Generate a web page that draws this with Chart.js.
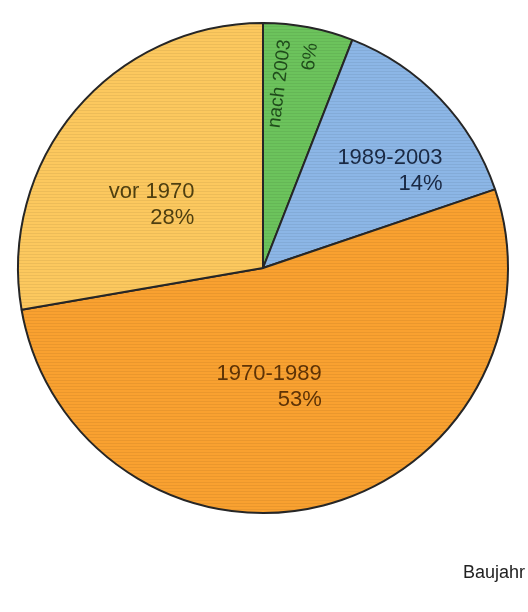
<!DOCTYPE html>
<html>
<head>
<meta charset="utf-8">
<script src="https://cdn.jsdelivr.net/npm/chart.js@4/dist/chart.umd.min.js"></script>
<style>
  html, body { margin: 0; padding: 0; background: #ffffff; }
  #wrap { width: 528px; height: 612px; }
</style>
</head>
<body>
<div id="wrap"><canvas id="pie" width="528" height="612"></canvas></div>
<script>
// Building stock by year of construction (share in %)
const categories = ['nach 2003', '1989-2003', '1970-1989', 'vor 1970'];
const shares = [6, 14, 53, 28];
const valueLabels = ['6%', '14%', '53%', '28%'];
const axisTitle = 'Baujahr';

// Slice colours and label ink
const sliceColors = ['#6cc35c', '#8cb6e6', '#f9a130', '#fcc85e'];
const inkColors = ['#1f4c1b', '#1a2944', '#5e3306', '#4f3f10'];

// Label anchors as fractions of the radius from the centre, rotation (deg) and font size
const labelPlacement = [
  { fx: 0.145, fy: -0.925, rot: -83, size: 19, gap: 13.5 },
  { fx: 0.733, fy: -0.396, rot: 0, size: 22, gap: 13 },
  { fx: 0.24, fy: 0.486, rot: 0, size: 22, gap: 13 },
  { fx: -0.28, fy: -0.257, rot: 0, size: 22, gap: 13 }
];

// Faint horizontal ruling inside each slice
function ruled(color) {
  const c = document.createElement('canvas');
  c.width = 4; c.height = 3;
  const g = c.getContext('2d');
  g.fillStyle = color;
  g.fillRect(0, 0, 4, 3);
  g.fillStyle = 'rgba(0,0,0,0.06)';
  g.fillRect(0, 2, 4, 1);
  return g.createPattern(c, 'repeat');
}

const sliceLabels = {
  id: 'sliceLabels',
  afterDatasetsDraw(chart) {
    const ctx = chart.ctx;
    const arcs = chart.getDatasetMeta(0).data;
    if (!arcs.length) return;
    const cx = arcs[0].x, cy = arcs[0].y, R = arcs[0].outerRadius;
    ctx.save();
    ctx.textAlign = 'right';
    ctx.textBaseline = 'middle';
    categories.forEach((name, i) => {
      const p = labelPlacement[i];
      ctx.save();
      ctx.font = p.size + 'px "Liberation Sans", Arial, sans-serif';
      ctx.translate(cx + p.fx * R, cy + p.fy * R);
      ctx.rotate(p.rot * Math.PI / 180);
      ctx.fillStyle = inkColors[i];
      ctx.fillText(name, 0, -p.gap);
      ctx.fillText(valueLabels[i], 0, p.gap);
      ctx.restore();
    });
    ctx.font = '18px "Liberation Sans", Arial, sans-serif';
    ctx.fillStyle = '#222222';
    ctx.textAlign = 'right';
    ctx.textBaseline = 'alphabetic';
    ctx.fillText(axisTitle, 525, 578);
    ctx.restore();
  }
};

new Chart(document.getElementById('pie'), {
  type: 'pie',
  data: {
    labels: categories,
    datasets: [{
      data: shares,
      backgroundColor: sliceColors.map(ruled),
      borderColor: '#262626',
      borderWidth: 2,
      hoverOffset: 0,
      offset: 0
    }]
  },
  options: {
    responsive: false,
    animation: false,
    layout: { padding: { left: 17, right: 19, top: 17, bottom: 93 } },
    plugins: {
      legend: { display: false },
      tooltip: { enabled: false }
    }
  },
  plugins: [sliceLabels]
});
</script>
</body>
</html>
